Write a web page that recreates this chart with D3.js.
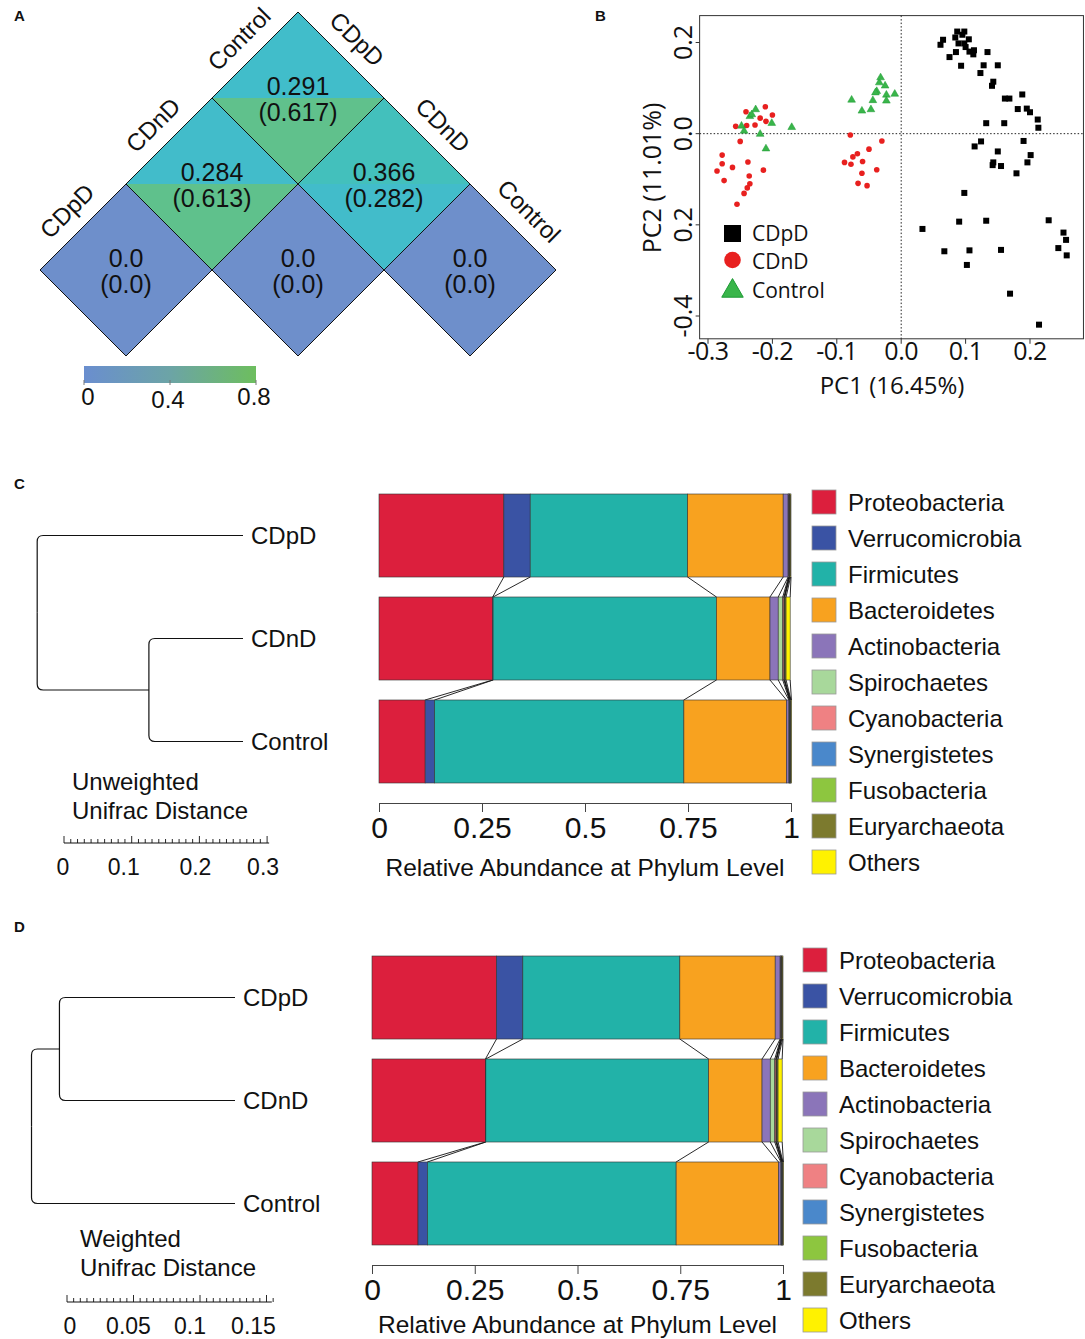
<!DOCTYPE html>
<html>
<head>
<meta charset="utf-8">
<script src="https://cdn.jsdelivr.net/npm/d3@7"></script>
<style>
  body { margin: 0; background: #fff; }
  svg text { font-family: "Liberation Sans", Arial, sans-serif; fill: #111; }
  .pca text { font-family: "Open Sans", "Noto Sans", sans-serif; }
</style>
</head>
<body>
<svg id="fig" width="1085" height="1339"></svg>
<script>
// ---- panel A: pairwise distances (value and value in brackets)
const groups = ["CDpD", "CDnD", "Control"];
const pairValue = [[0, 0.284, 0.291], [0.284, 0, 0.366], [0.291, 0.366, 0]];
const pairParen = [[0, 0.613, 0.617], [0.613, 0, 0.282], [0.617, 0.282, 0]];
const colorbarTicks = [0, 0.4, 0.8];

// ---- panel B: PCoA points [PC1, PC2]
const pcaCDpD = [[0.061,0.195],[0.065,0.206],[0.087,0.224],[0.098,0.224],[0.084,0.211],[0.095,0.217],[0.105,0.207],[0.089,0.198],[0.098,0.198],[0.100,0.190],[0.106,0.180],[0.113,0.183],[0.112,0.174],[0.085,0.179],[0.075,0.168],[0.093,0.149],[0.134,0.179],[0.128,0.150],[0.150,0.150],[0.123,0.133],[0.143,0.114],[0.141,0.105],[0.161,0.077],[0.168,0.077],[0.188,0.086],[0.181,0.054],[0.195,0.055],[0.200,0.047],[0.132,0.023],[0.160,0.023],[0.212,0.031],[0.213,0.013],[0.114,-0.028],[0.124,-0.017],[0.190,-0.016],[0.150,-0.039],[0.201,-0.047],[0.143,-0.063],[0.142,-0.069],[0.155,-0.071],[0.196,-0.063],[0.179,-0.087],[0.098,-0.130],[0.090,-0.193],[0.132,-0.191],[0.033,-0.209],[0.229,-0.190],[0.252,-0.217],[0.256,-0.233],[0.244,-0.251],[0.257,-0.267],[0.067,-0.258],[0.106,-0.256],[0.155,-0.255],[0.102,-0.288],[0.169,-0.351],[0.214,-0.419]];
const pcaCDnD = [[-0.241,0.048],[-0.211,0.059],[-0.200,0.041],[-0.219,0.034],[-0.210,0.027],[-0.257,0.016],[-0.240,0.018],[-0.227,0.019],[-0.250,-0.017],[-0.278,-0.047],[-0.278,-0.066],[-0.262,-0.074],[-0.286,-0.082],[-0.275,-0.103],[-0.238,-0.062],[-0.214,-0.080],[-0.236,-0.093],[-0.235,-0.110],[-0.239,-0.119],[-0.244,-0.131],[-0.255,-0.155],[-0.079,-0.003],[-0.030,-0.016],[-0.050,-0.034],[-0.068,-0.044],[-0.075,-0.051],[-0.088,-0.063],[-0.078,-0.067],[-0.060,-0.061],[-0.061,-0.087],[-0.038,-0.079],[-0.067,-0.109],[-0.053,-0.114]];
const pcaControl = [[-0.226,0.053],[-0.235,0.038],[-0.232,0.042],[-0.248,0.017],[-0.244,0.006],[-0.219,-0.001],[-0.201,0.023],[-0.170,0.014],[-0.210,-0.033],[-0.077,0.074],[-0.061,0.050],[-0.047,0.053],[-0.044,0.073],[-0.038,0.093],[-0.040,0.090],[-0.034,0.112],[-0.032,0.123],[-0.025,0.105],[-0.023,0.085],[-0.023,0.072],[-0.010,0.087]];
const pcaXTicks = [-0.3, -0.2, -0.1, 0, 0.1, 0.2];
const pcaXTickLabels = ["-0.3", "-0.2", "-0.1", "0.0", "0.1", "0.2"];
const pcaYTicks = [0.2, 0, -0.2, -0.4];
const pcaYTickLabels = ["0.2", "0.0", "0.2", "-0.4"];

// ---- panels C and D: relative abundance at phylum level
const samples = ["CDpD", "CDnD", "Control"];
const phyla = ["Proteobacteria", "Verrucomicrobia", "Firmicutes", "Bacteroidetes", "Actinobacteria",
  "Spirochaetes", "Cyanobacteria", "Synergistetes", "Fusobacteria", "Euryarchaeota", "Others"];
const phylaColors = ["#DC1F3D", "#3A53A4", "#22B2A8", "#F8A21F", "#8B75B9",
  "#A8D89B", "#EF8183", "#4A88CB", "#8DC63F", "#7C7A2E", "#FFF200"];
const abundCDpD = [0.303, 0.064, 0.382, 0.232, 0.012, 0.001, 0.001, 0.001, 0.001, 0.002, 0.001];
const abundCDnD = [0.276, 0.001, 0.542, 0.130, 0.020, 0.011, 0.003, 0.001, 0.001, 0.003, 0.010];
const abundControl = [0.112, 0.023, 0.605, 0.249, 0.006, 0.001, 0.001, 0.001, 0.001, 0.001, 0.001];
const abundTicks = [0, 0.25, 0.5, 0.75, 1];
const abundTickLabels = ["0", "0.25", "0.5", "0.75", "1"];

// dendrograms (merge distances)
const unweightedTree = {dist: 0.304, children: [{name: "CDpD"}, {dist: 0.139, children: [{name: "CDnD"}, {name: "Control"}]}]};
const weightedTree = {dist: 0.153, children: [{dist: 0.132, children: [{name: "CDpD"}, {name: "CDnD"}]}, {name: "Control"}]};
const unweightedScaleTicks = [0, 0.1, 0.2, 0.3];
const weightedScaleTicks = [0, 0.05, 0.1, 0.15];

const abundBySample = {CDpD: abundCDpD, CDnD: abundCDnD, Control: abundControl};

const svg = d3.select("#fig");

// panel letters
[["A", 14, 21], ["B", 595, 21], ["C", 14, 489], ["D", 14, 932]].forEach(function(p) {
  svg.append("text").attr("x", p[1]).attr("y", p[2]).text(p[0])
    .attr("font-size", 15).attr("font-weight", "bold");
});

// ================= Panel A =================
(function() {
  var g = svg.append("g");
  var h = 86;
  var cx = d3.scaleLinear().domain([0, 4]).range([126, 470]);   // i + j
  var cy = d3.scaleLinear().domain([0, 2]).range([270, 98]);    // j - i
  var heat = d3.scaleLinear()
    .domain([0, 0.29, 0.37, 0.62])
    .range(["#6E8FCB", "#41BDCA", "#43C0BB", "#60C18B"]);
  var fmt = function(v) { return v === 0 ? "0.0" : d3.format(".3f")(v); };

  var cells = [];
  groups.forEach(function(a, i) {
    groups.forEach(function(b, j) {
      if (j >= i) cells.push({i: i, j: j, v: pairValue[i][j], p: pairParen[i][j]});
    });
  });

  var cell = g.selectAll("g.cell").data(cells).join("g")
    .attr("transform", function(d) { return "translate(" + cx(d.i + d.j) + "," + cy(d.j - d.i) + ")"; });

  cell.append("path")
    .attr("d", "M" + (-h) + ",0L0," + (-h) + "L" + h + ",0Z")
    .attr("fill", function(d) { return heat(d.v); });
  cell.append("path")
    .attr("d", "M" + (-h) + ",0L0," + h + "L" + h + ",0Z")
    .attr("fill", function(d) { return heat(d.p); });
  cell.append("path")
    .attr("d", "M" + (-h) + ",0L0," + (-h) + "L" + h + ",0L0," + h + "Z")
    .attr("fill", "none").attr("stroke", "#111").attr("stroke-width", 1);

  cell.append("text").attr("text-anchor", "middle").attr("y", -3)
    .attr("font-size", 25).text(function(d) { return fmt(d.v); });
  cell.append("text").attr("text-anchor", "middle").attr("y", 23)
    .attr("font-size", 25).text(function(d) { return "(" + fmt(d.p) + ")"; });

  // left labels along row i = 0
  groups.forEach(function(name, j) {
    var x = cx(j) - h / 2 - 16, y = cy(j) - h / 2 - 16;
    g.append("text").attr("transform", "translate(" + x + "," + y + ") rotate(-45)")
      .attr("text-anchor", "middle").attr("dominant-baseline", "central")
      .attr("font-size", 24).text(name);
  });
  // right labels along column j = 2
  groups.forEach(function(name, i) {
    var x = cx(i + 2) + h / 2 + 16, y = cy(2 - i) - h / 2 - 16;
    g.append("text").attr("transform", "translate(" + x + "," + y + ") rotate(45)")
      .attr("text-anchor", "middle").attr("dominant-baseline", "central")
      .attr("font-size", 24).text(name);
  });

  // colorbar
  var cb = d3.scaleLinear().domain([0, 0.8]).range([84, 256]);
  var grad = svg.append("defs").append("linearGradient").attr("id", "cbar");
  grad.append("stop").attr("offset", "0%").attr("stop-color", "#6A8ECF");
  grad.append("stop").attr("offset", "50%").attr("stop-color", "#6CA4A6");
  grad.append("stop").attr("offset", "100%").attr("stop-color", "#6DBE5E");
  g.append("rect").attr("x", cb(0)).attr("y", 366).attr("width", cb(0.8) - cb(0)).attr("height", 17)
    .attr("fill", "url(#cbar)");
  g.selectAll("line.cbt").data(colorbarTicks).join("line")
    .attr("x1", cb).attr("x2", cb).attr("y1", 380).attr("y2", 385)
    .attr("stroke", "#777").attr("stroke-width", 1);
  g.selectAll("text.cbl").data(colorbarTicks).join("text")
    .attr("x", function(d) { return cb(d) + (d === 0 ? 4 : -2); })
    .attr("y", function(d, i) { return i === 1 ? 408 : 405; })
    .attr("text-anchor", "middle").attr("font-size", 24)
    .text(function(d) { return String(d); });
})();

// ================= Panel B =================
(function() {
  var g = svg.append("g").attr("class", "pca");
  var x = d3.scaleLinear().domain([-0.3, 0.2]).range([708, 1030]);
  var y = d3.scaleLinear().domain([-0.4, 0.2]).range([316, 42.5]);
  var xLim = [-0.313, 0.283], yLim = [-0.45, 0.259];

  g.append("rect").attr("x", x(xLim[0])).attr("y", y(yLim[1]))
    .attr("width", x(xLim[1]) - x(xLim[0])).attr("height", y(yLim[0]) - y(yLim[1]))
    .attr("fill", "none").attr("stroke", "#333").attr("stroke-width", 1);

  g.append("line").attr("x1", x(0)).attr("x2", x(0)).attr("y1", y(yLim[1])).attr("y2", y(yLim[0]))
    .attr("stroke", "#222").attr("stroke-dasharray", "1.5,2");
  g.append("line").attr("x1", x(xLim[0])).attr("x2", x(xLim[1])).attr("y1", y(0)).attr("y2", y(0))
    .attr("stroke", "#222").attr("stroke-dasharray", "1.5,2");

  // x ticks
  g.selectAll("line.xt").data(pcaXTicks).join("line")
    .attr("x1", x).attr("x2", x).attr("y1", y(yLim[0])).attr("y2", y(yLim[0]) + 5)
    .attr("stroke", "#333");
  g.selectAll("text.xl").data(pcaXTicks).join("text")
    .attr("x", x).attr("y", 360).attr("text-anchor", "middle").attr("font-size", 25)
    .attr("letter-spacing", -0.5)
    .text(function(d, i) { return pcaXTickLabels[i]; });
  // y ticks
  g.selectAll("line.yt").data(pcaYTicks).join("line")
    .attr("y1", y).attr("y2", y).attr("x1", x(xLim[0]) - 4).attr("x2", x(xLim[0]))
    .attr("stroke", "#333");
  g.selectAll("text.yl").data(pcaYTicks).join("text")
    .attr("transform", function(d) { return "translate(692," + y(d) + ") rotate(-90)"; })
    .attr("text-anchor", "middle").attr("font-size", 25)
    .text(function(d, i) { return pcaYTickLabels[i]; });

  g.append("text").attr("x", 892).attr("y", 394).attr("text-anchor", "middle")
    .attr("font-size", 24).text("PC1 (16.45%)");
  g.append("text").attr("transform", "translate(661,178) rotate(-90)").attr("text-anchor", "middle")
    .attr("font-size", 25).text("PC2 (11.01%)");

  // points
  g.selectAll("rect.pt").data(pcaCDpD).join("rect")
    .attr("x", function(d) { return x(d[0]) - 3; }).attr("y", function(d) { return y(d[1]) - 3; })
    .attr("width", 6).attr("height", 6).attr("fill", "#000");
  g.selectAll("circle.pt").data(pcaCDnD).join("circle")
    .attr("cx", function(d) { return x(d[0]); }).attr("cy", function(d) { return y(d[1]); })
    .attr("r", 2.8).attr("fill", "#E8201F");
  var tri = d3.symbol().type(d3.symbolTriangle).size(26);
  g.selectAll("path.pt").data(pcaControl).join("path")
    .attr("transform", function(d) { return "translate(" + x(d[0]) + "," + y(d[1]) + ")"; })
    .attr("d", tri).attr("fill", "#39B54A").attr("stroke", "#1E9A35").attr("stroke-width", 0.5);

  // legend
  var lg = g.append("g");
  lg.append("rect").attr("x", 724).attr("y", 225).attr("width", 17).attr("height", 17).attr("fill", "#000");
  lg.append("circle").attr("cx", 732.5).attr("cy", 260).attr("r", 8.3).attr("fill", "#E8201F");
  lg.append("path").attr("transform", "translate(732.5,291)")
    .attr("d", d3.symbol().type(d3.symbolTriangle).size(200)).attr("fill", "#39B54A").attr("stroke", "#1E9A35");
  [["CDpD", 241], ["CDnD", 269], ["Control", 298]].forEach(function(t) {
    lg.append("text").attr("x", 752).attr("y", t[1]).attr("font-size", 21).text(t[0]);
  });
})();

// ================= Panels C and D =================
function drawAbundance(cfg) {
  var g = svg.append("g");
  var x = d3.scaleLinear().domain([0, 1]).range(cfg.xRange);
  var y = d3.scaleBand().domain(samples).range(cfg.yRange).paddingInner(0.194).paddingOuter(0);
  var bw = y.bandwidth();

  var stacks = samples.map(function(s) {
    var c = 0;
    return abundBySample[s].map(function(v, k) {
      var seg = {s: s, k: k, x0: c, x1: c + v};
      c += v;
      return seg;
    });
  });

  // connecting lines between adjacent bars
  for (var i = 0; i < samples.length - 1; i++) {
    g.selectAll(null).data(d3.range(phyla.length)).join("line")
      .attr("x1", function(k) { return x(stacks[i][k].x1); })
      .attr("y1", y(samples[i]) + bw)
      .attr("x2", function(k) { return x(stacks[i + 1][k].x1); })
      .attr("y2", y(samples[i + 1]))
      .attr("stroke", "#111").attr("stroke-width", 0.9);
  }

  g.selectAll("g.bar").data(stacks).join("g")
    .selectAll("rect").data(function(d) { return d; }).join("rect")
    .attr("x", function(d) { return x(d.x0); })
    .attr("y", function(d) { return y(d.s); })
    .attr("width", function(d) { return x(d.x1) - x(d.x0); })
    .attr("height", bw)
    .attr("fill", function(d) { return phylaColors[d.k]; })
    .attr("stroke", "#333").attr("stroke-width", 0.6);

  var ax = g.append("g").attr("transform", "translate(0," + cfg.axisY + ")")
    .call(d3.axisBottom(x).tickValues(abundTicks)
      .tickFormat(function(d, i) { return abundTickLabels[i]; })
      .tickSize(9).tickPadding(5).tickSizeOuter(0));
  ax.select(".domain").attr("stroke", "#444");
  ax.selectAll(".tick line").attr("stroke", "#444");
  ax.selectAll(".tick text").attr("font-size", 30)
    .attr("font-family", "Liberation Sans, Arial, sans-serif").attr("fill", "#111");

  g.append("text").attr("x", (cfg.xRange[0] + cfg.xRange[1]) / 2).attr("y", cfg.titleY)
    .attr("text-anchor", "middle").attr("font-size", 24.5).text("Relative Abundance at Phylum Level");

  // legend
  var lg = g.selectAll("g.leg").data(phyla).join("g")
    .attr("transform", function(d, i) { return "translate(" + cfg.legX + "," + (cfg.legY + i * 36) + ")"; });
  lg.append("rect").attr("width", 24).attr("height", 24)
    .attr("fill", function(d, i) { return phylaColors[i]; })
    .attr("stroke", "#999").attr("stroke-width", 0.8);
  lg.append("text").attr("x", 36).attr("y", 12).attr("dominant-baseline", "central")
    .attr("font-size", 24).text(function(d) { return d; });

  // dendrogram
  var xd = d3.scaleLinear().domain([0, 1]).range([cfg.leafX, cfg.leafX - cfg.pxPerUnit]);
  var r = 6;
  function layout(n) {
    if (n.name) return {x: xd(0), y: y(n.name) + bw / 2, name: n.name};
    var kids = n.children.map(layout);
    var pos = {x: xd(n.dist), y: d3.mean(kids, function(k) { return k.y; })};
    kids.forEach(function(k) {
      var s = pos.y > k.y ? 1 : -1;
      g.append("path")
        .attr("d", "M" + k.x + "," + k.y + "L" + (pos.x + r) + "," + k.y +
          "Q" + pos.x + "," + k.y + " " + pos.x + "," + (k.y + s * r) + "L" + pos.x + "," + pos.y)
        .attr("fill", "none").attr("stroke", "#111").attr("stroke-width", 1.2);
      if (k.name) {
        g.append("text").attr("x", k.x + 8).attr("y", k.y).attr("dominant-baseline", "central")
          .attr("font-size", 24).text(k.name);
      }
    });
    return pos;
  }
  layout(cfg.tree);

  // distance scale bar
  g.append("text").attr("x", cfg.scaleTextX).attr("y", cfg.scaleTextY).attr("font-size", 24).text(cfg.scaleTitle);
  g.append("text").attr("x", cfg.scaleTextX).attr("y", cfg.scaleTextY + 29).attr("font-size", 24).text("Unifrac Distance");
  var sx = d3.scaleLinear().domain([0, 1]).range([cfg.scaleX0, cfg.scaleX0 + cfg.pxPerUnit]);
  g.append("line").attr("x1", sx(0)).attr("x2", sx(cfg.scaleMax)).attr("y1", cfg.scaleY).attr("y2", cfg.scaleY)
    .attr("stroke", "#111").attr("stroke-width", 1.2);
  var minor = d3.range(0, Math.round(cfg.scaleMax / cfg.minorStep) + 1);
  g.selectAll(null).data(minor).join("line")
    .attr("x1", function(i) { return sx(i * cfg.minorStep); })
    .attr("x2", function(i) { return sx(i * cfg.minorStep); })
    .attr("y1", cfg.scaleY)
    .attr("y2", function(i) { return cfg.scaleY - (i % 10 === 0 ? 7 : 4); })
    .attr("stroke", "#111").attr("stroke-width", 0.9);
  g.selectAll(null).data(cfg.scaleTicks).join("text")
    .attr("x", function(d, i) { return sx(d) + cfg.labelShift[i]; })
    .attr("y", cfg.scaleY + 32).attr("text-anchor", "middle").attr("font-size", 23)
    .text(function(d) { return String(d); });
}

drawAbundance({
  xRange: [379, 791], yRange: [494, 783], axisY: 803, titleY: 876,
  legX: 812, legY: 490,
  tree: unweightedTree, leafX: 243, pxPerUnit: 677,
  scaleTitle: "Unweighted", scaleTextX: 72, scaleTextY: 790,
  scaleX0: 64, scaleY: 843, scaleMax: 0.303, minorStep: 0.01,
  scaleTicks: unweightedScaleTicks, labelShift: [-1, -8, -4, -4]
});

drawAbundance({
  xRange: [372, 783], yRange: [956, 1245], axisY: 1265, titleY: 1333,
  legX: 803, legY: 948,
  tree: weightedTree, leafX: 235, pxPerUnit: 1330,
  scaleTitle: "Weighted", scaleTextX: 80, scaleTextY: 1247,
  scaleX0: 67, scaleY: 1302, scaleMax: 0.154, minorStep: 0.005,
  scaleTicks: weightedScaleTicks, labelShift: [3, -5, -10, -13]
});
</script>
</body>
</html>
